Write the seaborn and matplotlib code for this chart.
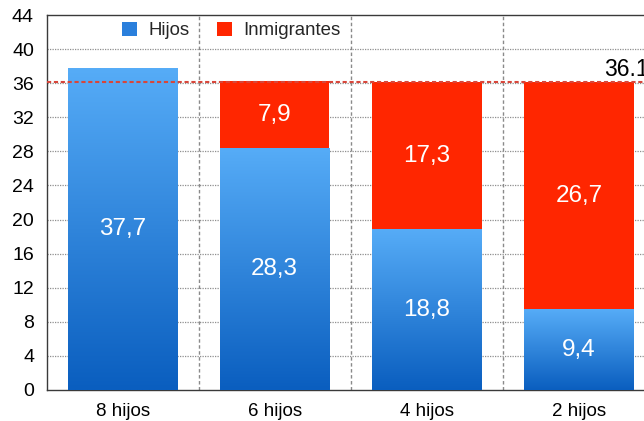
import numpy as np
import pandas as pd
import matplotlib
matplotlib.use("Agg")
import matplotlib.pyplot as plt
import seaborn as sns
from matplotlib.patches import Patch
from matplotlib.colors import LinearSegmentedColormap

# Data
categorias = ["8 hijos", "6 hijos", "4 hijos", "2 hijos"]
hijos = [37.7, 28.3, 18.8, 9.4]
inmigrantes = [0.0, 7.9, 17.3, 26.7]
nivel_reemplazo = 36.1
yticks = list(range(0, 45, 4))

sns.set_theme(style="white")
plt.rcParams["font.family"] = ["Liberation Sans", "DejaVu Sans"]

df = pd.DataFrame({"categoria": categorias, "hijos": hijos, "inmigrantes": inmigrantes})
# Red bars span the full stack; only where there is an immigrant share
df["total"] = np.where(df["inmigrantes"] > 0, df["hijos"] + df["inmigrantes"], np.nan)

RED = "#ff2600"
BLUE_TOP = "#56acf7"
BLUE_BOTTOM = "#0a5ebf"

fig = plt.figure(figsize=(6.44, 4.21), dpi=100)
ax = fig.add_axes([46.5 / 644, 31 / 421, 608.5 / 644, 375 / 421])

sns.barplot(data=df, x="categoria", y="total", order=categorias, color=RED,
            saturation=1, width=0.72, linewidth=0, ax=ax, zorder=2)
n_red = len(ax.patches)
sns.barplot(data=df, x="categoria", y="hijos", order=categorias, color=BLUE_TOP,
            saturation=1, width=0.72, linewidth=0, ax=ax, zorder=3)

# Vertical gradient fill for the blue bars
cmap = LinearSegmentedColormap.from_list("azul", [BLUE_BOTTOM, BLUE_TOP])
grad = np.linspace(0, 1, 256).reshape(-1, 1)
for bar in ax.patches[n_red:]:
    x0, y0 = bar.get_x(), bar.get_y()
    w, h = bar.get_width(), bar.get_height()
    if not np.isfinite(h) or h <= 0:
        continue
    ax.imshow(grad, extent=[x0, x0 + w, y0, y0 + h], origin="lower",
              cmap=cmap, aspect="auto", zorder=3, interpolation="bilinear")
    bar.set_facecolor("none")

ax.set_xlim(-0.5, 3.5)
ax.set_ylim(0, 44)
ax.set_aspect("auto")

# Grid lines
ax.set_yticks(yticks)
for y in yticks[1:-1]:
    ax.axhline(y, color="#8f8f8f", lw=0.9, linestyle=(0, (1, 1)), zorder=1)
for x in [0.5, 1.5, 2.5]:
    ax.axvline(x, color="#8a8a8a", lw=1.0, linestyle=(0, (2.5, 1.8)), zorder=1)

# Replacement level line
ax.axhline(nivel_reemplazo, color="#d8463a", lw=1.5, linestyle=(0, (2, 1.3)), zorder=4)
ax.text(3.165, nivel_reemplazo + 0.75, f"{nivel_reemplazo:.1f}", ha="left", va="baseline",
        fontsize=16.5, color="black", zorder=5)

# Value labels
def fmt(v):
    return f"{v:.1f}".replace(".", ",")

for i, (h, m) in enumerate(zip(hijos, inmigrantes)):
    ax.text(i, h / 2, fmt(h), ha="center", va="center", color="white", fontsize=17.5, zorder=6)
    if m > 0:
        ax.text(i, h + m / 2, fmt(m), ha="center", va="center", color="white",
                fontsize=17.5, zorder=6)

# Axes styling
ax.set_xlabel("")
ax.set_ylabel("")
ax.tick_params(axis="y", length=0, pad=9, labelsize=14, labelcolor="black")
ax.tick_params(axis="x", length=0, pad=9.5, labelsize=13.5, labelcolor="black")
for side in ["left", "top", "bottom"]:
    ax.spines[side].set_color("#3a3a3a")
    ax.spines[side].set_linewidth(1.0)
ax.spines["right"].set_visible(False)

# Legend
handles = [Patch(facecolor="#2a7fdc", edgecolor="none"), Patch(facecolor=RED, edgecolor="none")]
fig.legend(handles, ["Hijos", "Inmigrantes"], ncol=2, frameon=False, loc="center left",
           bbox_to_anchor=(122 / 644, 1 - 30.5 / 421), bbox_transform=fig.transFigure,
           fontsize=13.4, handlelength=0.8, handleheight=0.8, handletextpad=0.6,
           columnspacing=1.5, borderpad=0, borderaxespad=0)

fig.savefig("out.png", dpi=100)
